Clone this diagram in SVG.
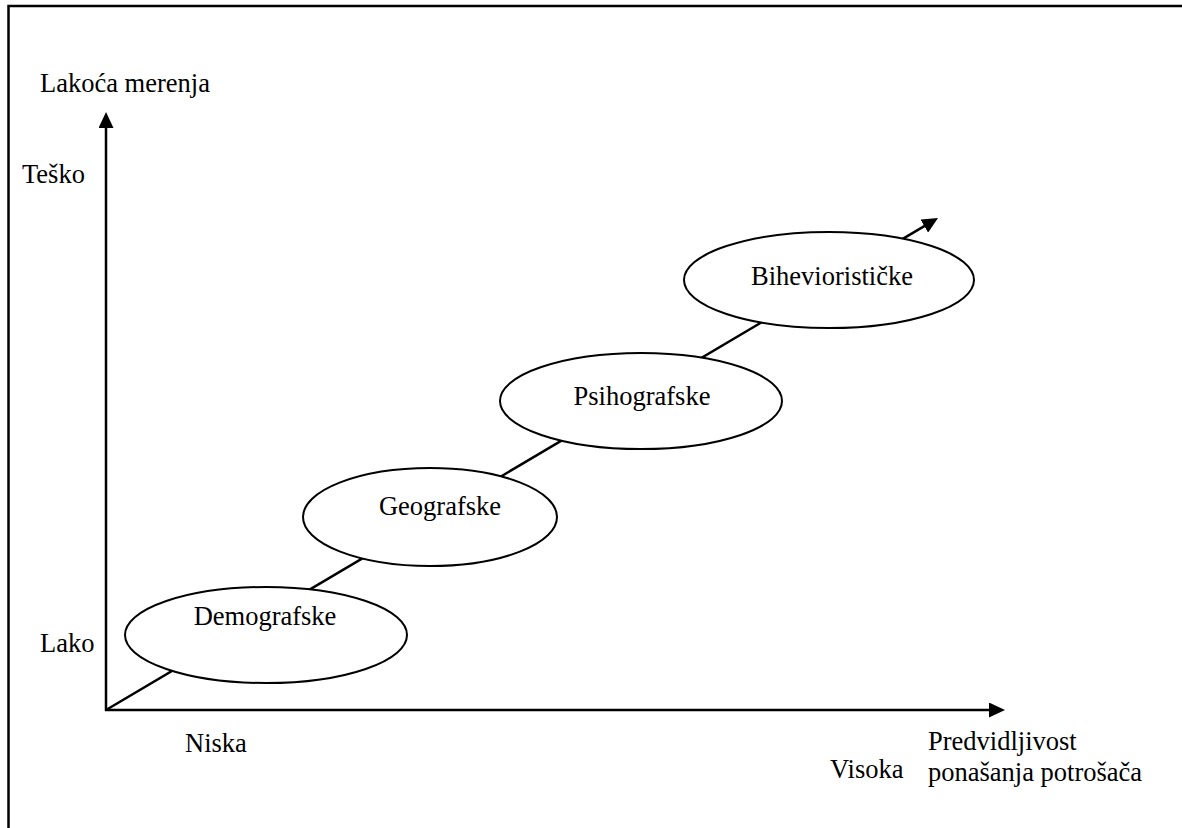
<svg xmlns="http://www.w3.org/2000/svg" width="1182" height="828" viewBox="0 0 1182 828">
<style>
text{font-family:"Liberation Serif","Times New Roman",serif;font-size:26.5px;fill:#000}
.ax{stroke:#000;stroke-width:2.5;fill:none}
.node ellipse{fill:#fff;stroke:#000;stroke-width:2}
.mid{text-anchor:middle}
</style>
<defs>
<marker id="ah" markerUnits="userSpaceOnUse" markerWidth="16" markerHeight="15" refX="2" refY="7.5" orient="auto" viewBox="0 0 16 15">
<path d="M0,0 L16,7.5 L0,15 z" fill="#000"/>
</marker>
</defs>
<rect x="0" y="0" width="1182" height="828" fill="#fff"/>
<rect id="frame" x="8.5" y="6" width="1200" height="900" fill="none" stroke="#000" stroke-width="2.5"/>
<g id="connectors">
<line class="ax" x1="106" y1="711" x2="106" y2="126" marker-end="url(#ah)"/>
<line class="ax" x1="105" y1="710" x2="991" y2="710" marker-end="url(#ah)"/>
<line class="ax" x1="106" y1="710" x2="926" y2="225.1" marker-end="url(#ah)"/>
</g>
<g id="labels">
<text x="40" y="92">Lakoća merenja</text>
<text x="22" y="183">Teško</text>
<text x="40" y="652">Lako</text>
<text x="185" y="752">Niska</text>
<text x="830" y="778">Visoka</text>
<text x="928" y="750">Predvidljivost</text>
<text x="928" y="781">ponašanja potrošača</text>
</g>
<g id="n-demografske" class="node">
<ellipse cx="266" cy="635" rx="141" ry="48"/>
<text class="mid" x="265" y="625">Demografske</text>
</g>
<g id="n-geografske" class="node">
<ellipse cx="430" cy="517" rx="127" ry="49"/>
<text class="mid" x="440" y="515">Geografske</text>
</g>
<g id="n-psihografske" class="node">
<ellipse cx="641" cy="401" rx="141" ry="48"/>
<text class="mid" x="642" y="405">Psihografske</text>
</g>
<g id="n-bihevioristicke" class="node">
<ellipse cx="829" cy="280" rx="145" ry="48"/>
<text class="mid" x="832" y="285">Biheviorističke</text>
</g>
</svg>
